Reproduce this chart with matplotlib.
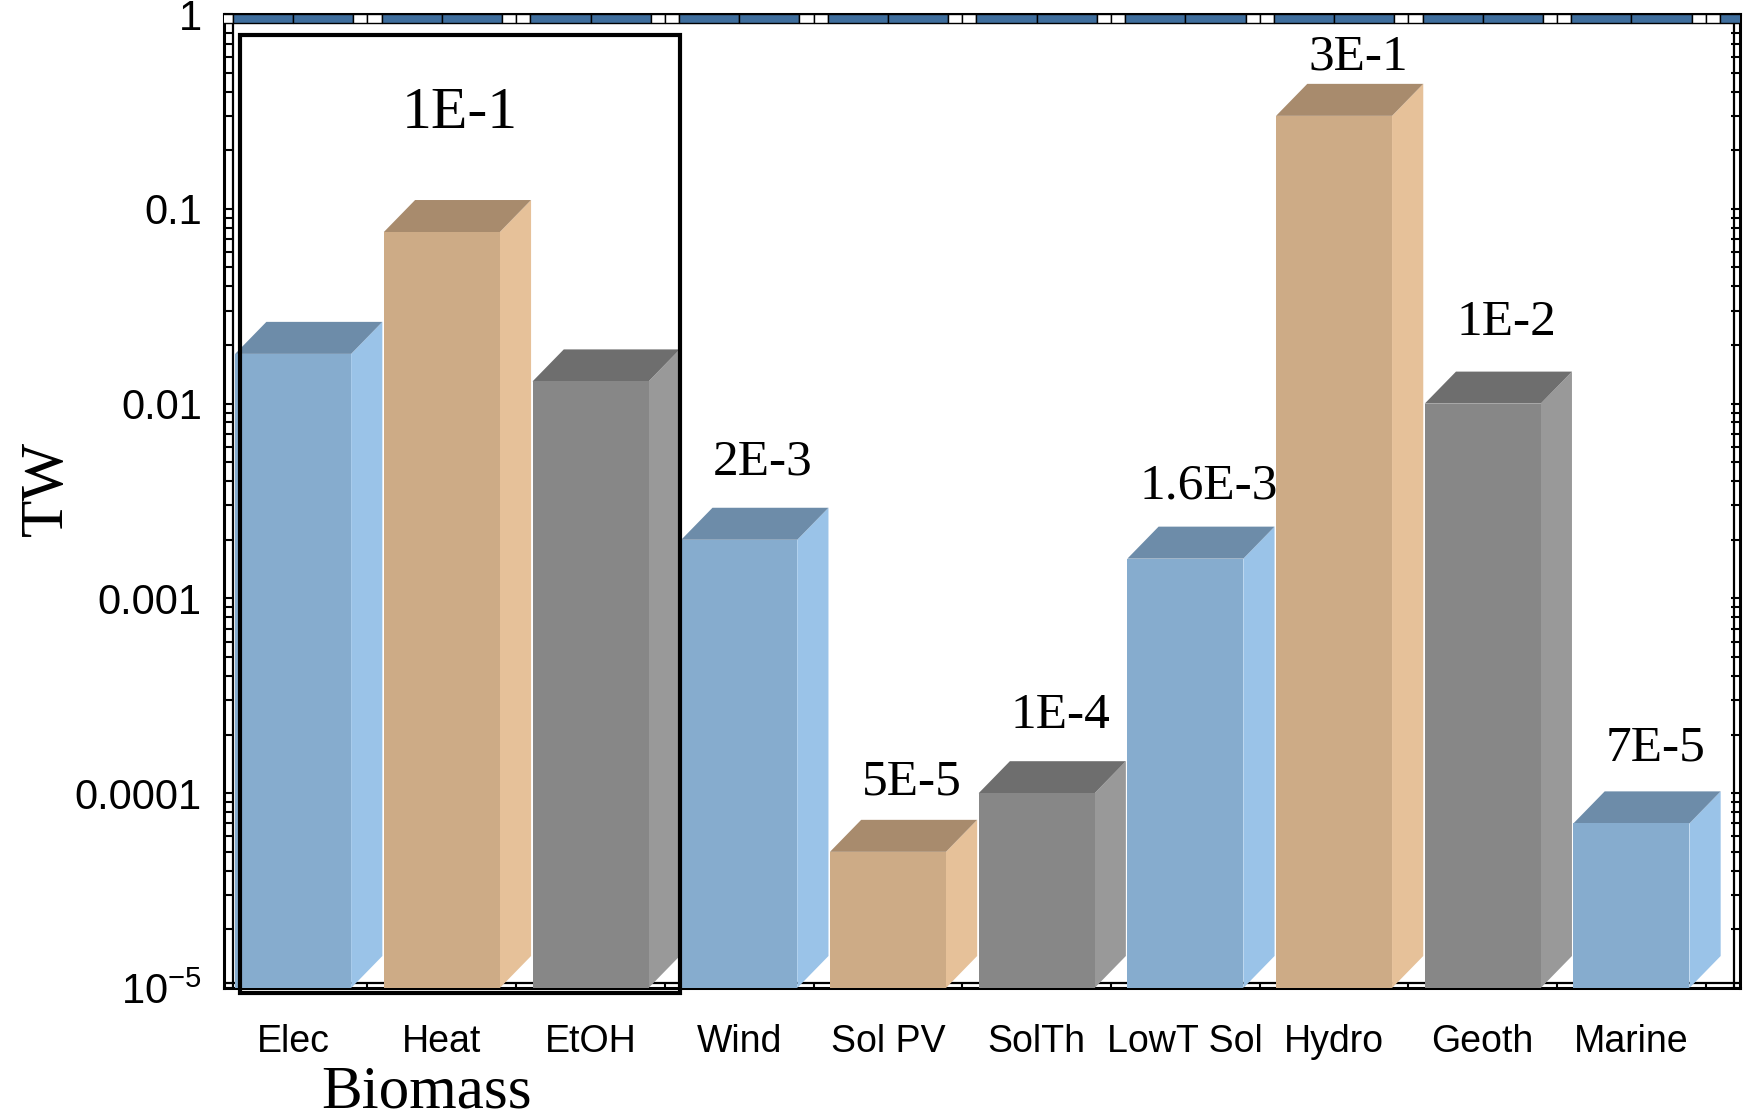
import numpy as np
import matplotlib
matplotlib.use("Agg")
import matplotlib.pyplot as plt
from matplotlib.patches import Polygon, Rectangle
from matplotlib.lines import Line2D
from matplotlib import transforms
from matplotlib.ticker import FixedLocator, LogLocator, NullFormatter

# ---- data -------------------------------------------------------------
categories = ["Elec", "Heat", "EtOH", "Wind", "Sol PV", "SolTh",
              "LowT Sol", "Hydro", "Geoth", "Marine"]
power_tw = [0.018, 0.076, 0.013, 2e-3, 5e-5, 1e-4, 1.6e-3, 3e-1, 1e-2, 7e-5]
value_labels = [None, None, None, "2E-3", "5E-5", "1E-4", "1.6E-3",
                "3E-1", "1E-2", "7E-5"]
group_members = [0, 1, 2]
group_name = "Biomass"
group_total_label = "1E-1"
ytick_values = [1e-5, 1e-4, 1e-3, 1e-2, 1e-1, 1]
ytick_labels = ["$10^{-5}$", "0.0001", "0.001", "0.01", "0.1", "1"]
y_title = "TW"

# ---- style ------------------------------------------------------------
plt.rcParams["font.family"] = ["Liberation Sans", "DejaVu Sans"]
plt.rcParams["mathtext.fontset"] = "custom"
plt.rcParams["mathtext.rm"] = "Liberation Sans"
plt.rcParams["mathtext.it"] = "Liberation Sans:italic"
SERIF = ["Liberation Serif", "DejaVu Serif"]

# (front, side, top) shades for each colour family
palette = [
    ("#86acce", "#9ac3e8", "#6d8ca9"),   # blue
    ("#cdab86", "#e6c199", "#a88b6d"),   # tan
    ("#878787", "#999999", "#6e6e6e"),   # gray
]
band_blue = "#3f6e9d"
label_lift_pt = [0, 0, 0, 24, 18, 24, 20, 10, 26, 22]

W, H = 1747, 1120
fig = plt.figure(figsize=(W / 100, H / 100), dpi=100)
ax_l, ax_r, ax_t, ax_b = 224, 1740, 14, 988
ax = fig.add_axes([ax_l / W, 1 - ax_b / H, (ax_r - ax_l) / W, (ax_b - ax_t) / H])

ax.set_yscale("log")
ymin, ymax = 1e-5, 1.0
ax.set_ylim(ymin, ymax)
n = len(categories)
xpos = np.arange(n)
ax.set_xlim(-0.465, 9.73)

# 3D-look geometry
face_w = 0.78
depth_x = 0.21
ax_h_px = ax_b - ax_t
px_per_decade = ax_h_px / np.log10(ymax / ymin)
depth_px = 32
depth_f = 10 ** (depth_px / px_per_decade)

for i, (x, v) in enumerate(zip(xpos, power_tw)):
    front, side, top = palette[i % 3]
    x0, x1 = x - face_w / 2, x + face_w / 2
    z = 3 + i * 0.01
    ax.add_patch(Polygon([(x1, ymin), (x1, v), (x1 + depth_x, v * depth_f),
                          (x1 + depth_x, ymin * depth_f)],
                         closed=True, facecolor=side, edgecolor="none", zorder=z))
    ax.add_patch(Polygon([(x0, v), (x1, v), (x1 + depth_x, v * depth_f),
                          (x0 + depth_x, v * depth_f)],
                         closed=True, facecolor=top, edgecolor="none", zorder=z))
    ax.add_patch(Rectangle((x0, ymin), face_w, v - ymin, facecolor=front,
                           edgecolor="none", zorder=z + 0.005))
    if value_labels[i]:
        ax.annotate(value_labels[i], xy=(x + 0.16, v * depth_f),
                    xytext=(0, label_lift_pt[i]), textcoords="offset points",
                    ha="center", va="baseline", fontsize=37, family=SERIF,
                    zorder=6)

# ---- frame: double lines with tick rungs -----------------------------
for s in ax.spines.values():
    s.set_linewidth(2.2)

ax.yaxis.set_major_locator(FixedLocator(ytick_values))
ax.set_yticklabels(ytick_labels)
ax.yaxis.set_minor_locator(LogLocator(base=10, subs=np.arange(2, 10), numticks=100))
ax.yaxis.set_minor_formatter(NullFormatter())
ax.tick_params(axis="y", which="both", direction="in", left=True, right=True,
               length=6.5, width=1.5, labelsize=30, pad=16)
ax.set_xticks(xpos)
ax.set_xticklabels(categories)
ax.set_xticks(xpos + 0.5, minor=True)
ax.tick_params(axis="x", which="both", direction="in", bottom=True, top=False,
               length=3.6, width=1.5, labelsize=27, pad=26)

inner_left = transforms.offset_copy(ax.transAxes, fig=fig, x=9, y=0, units="dots")
inner_right = transforms.offset_copy(ax.transAxes, fig=fig, x=-6, y=0, units="dots")
inner_bottom = transforms.offset_copy(ax.transAxes, fig=fig, x=0, y=5, units="dots")
ax.add_line(Line2D([0, 0], [0, 1], transform=inner_left, color="black", lw=1.6, zorder=2.6))
ax.add_line(Line2D([1, 1], [0, 1], transform=inner_right, color="black", lw=1.6, zorder=2.6))
ax.add_line(Line2D([0, 1], [0, 0], transform=inner_bottom, color="black", lw=1.6, zorder=2.6))

# top band: blue and white cells
band_h = 9 / ax_h_px
xy_blend = transforms.blended_transform_factory(ax.transData, ax.transAxes)
for c in range(-1, n + 1):
    cells = [(c - 0.405, c, band_blue), (c, c + 0.405, band_blue),
             (c + 0.405, c + 0.5, "white"), (c + 0.5, c + 0.595, "white")]
    for a, b, col in cells:
        ax.add_patch(Rectangle((a, 1 - band_h), b - a, band_h, transform=xy_blend,
                               facecolor=col, edgecolor="black", lw=1.0, zorder=2.7))

# group box
gx0 = group_members[0] - 0.357
gx1 = group_members[-1] + 0.6
box_top = (ax_b - 35) / ax_h_px
box_bot = (ax_b - 993) / ax_h_px
ax.add_patch(Rectangle((gx0, box_bot), gx1 - gx0, box_top - box_bot, transform=xy_blend,
                       fill=False, edgecolor="black", lw=3.0, zorder=10, clip_on=False))
ax.text((gx0 + gx1) / 2, (ax_b - 128) / ax_h_px, group_total_label, transform=xy_blend,
        ha="center", va="baseline", fontsize=43, family=SERIF, zorder=10)

fig.text(427 / W, 13 / H, group_name, ha="center", va="baseline",
         fontsize=44, family=SERIF)
fig.text(47 / W, 1 - 488 / H, y_title, rotation=90, ha="center", va="center",
         fontsize=44, family=SERIF)

fig.savefig("out.png", dpi=100)
